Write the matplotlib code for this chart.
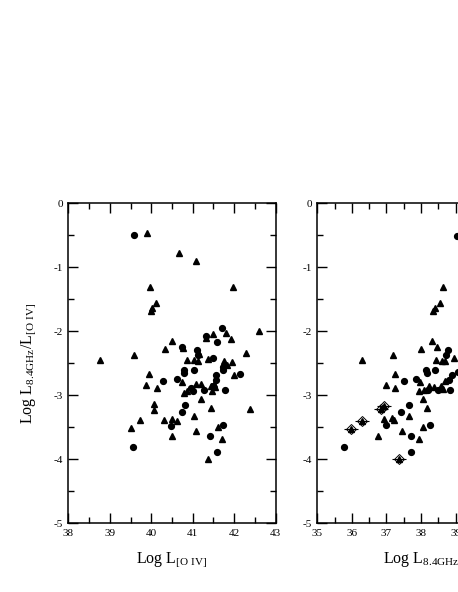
import matplotlib
matplotlib.use("Agg")
import matplotlib.pyplot as plt
from matplotlib.ticker import MultipleLocator

plt.rcParams['font.family'] = ['Liberation Serif', 'DejaVu Serif']
plt.rcParams['mathtext.fontset'] = 'custom'
plt.rcParams['mathtext.rm'] = 'Liberation Serif'
plt.rcParams['mathtext.it'] = 'Liberation Serif'
plt.rcParams['axes.unicode_minus'] = False

# left panel: ratio vs log L[O IV]
oiv_circ_x = [39.58, 41.70, 41.31, 41.59, 40.75, 41.11, 41.13, 41.49, 41.72, 41.72, 41.02, 40.79,
              40.80, 42.14, 41.57, 40.29, 40.61, 41.55, 41.48, 40.95, 41.01, 41.28, 41.77,
              40.81, 40.75, 40.48, 41.72, 41.41, 39.57, 41.58]
oiv_circ_y = [-0.50, -1.95, -2.07, -2.17, -2.24, -2.29, -2.37, -2.41, -2.56, -2.60, -2.61, -2.61,
              -2.65, -2.67, -2.68, -2.77, -2.75, -2.76, -2.86, -2.89, -2.93, -2.92, -2.91,
              -3.15, -3.26, -3.48, -3.47, -3.63, -3.80, -3.88]
oiv_tri_x = [39.90, 40.68, 41.07, 39.97, 40.12, 40.03, 40.00, 41.97, 42.60, 41.80, 41.49, 41.31,
             41.93, 40.49, 40.32, 40.77, 41.15, 39.58, 38.77, 40.87, 41.02, 41.12, 41.38, 42.29,
             41.76, 41.94, 41.83, 39.94, 42.00, 40.73, 41.51, 41.43, 41.53, 39.87, 40.14, 41.08,
             41.19, 40.87, 40.80, 41.46, 41.20, 40.07, 40.07, 41.45, 42.39, 41.03, 39.72, 40.30,
             40.50, 40.61, 39.52, 41.60, 41.09, 40.49, 41.70, 41.37]
oiv_tri_y = [-0.46, -0.77, -0.90, -1.30, -1.56, -1.64, -1.68, -1.31, -1.99, -2.02, -2.04, -2.10,
             -2.12, -2.15, -2.28, -2.26, -2.35, -2.37, -2.45, -2.45, -2.45, -2.46, -2.43, -2.34,
             -2.46, -2.48, -2.53, -2.67, -2.68, -2.79, -2.83, -2.85, -2.87, -2.84, -2.88, -2.82,
             -2.82, -2.93, -2.96, -2.94, -3.06, -3.14, -3.23, -3.20, -3.22, -3.32, -3.39, -3.38,
             -3.37, -3.40, -3.51, -3.49, -3.56, -3.63, -3.68, -4.00]

# right panel: ratio vs log L8.4GHz
rad_circ_x = [39.05, 38.77, 38.72, 38.14, 38.16, 38.40, 39.08, 38.89, 37.51, 37.86, 38.82,
              38.20, 38.50, 38.85, 37.64, 37.43, 36.99, 38.25, 37.71, 35.76, 37.70]
rad_circ_y = [-0.51, -2.29, -2.37, -2.61, -2.65, -2.61, -2.63, -2.68, -2.77, -2.75, -2.76,
              -2.91, -2.92, -2.91, -3.15, -3.26, -3.47, -3.47, -3.63, -3.80, -3.88]
rad_tri_x = [38.65, 38.54, 38.40, 38.35, 38.31, 38.47, 38.00, 37.19, 36.28, 38.43, 38.60,
             38.69, 38.95, 37.24, 37.98, 38.70, 38.58, 38.37, 38.23, 37.00, 37.26, 38.64,
             38.08, 37.93, 38.07, 38.17, 37.66, 36.92, 37.15, 37.21, 38.07, 36.77, 37.45, 37.95]
rad_tri_y = [-1.30, -1.56, -1.64, -1.68, -2.15, -2.24, -2.28, -2.37, -2.45, -2.45, -2.46,
             -2.46, -2.42, -2.67, -2.79, -2.78, -2.86, -2.87, -2.85, -2.84, -2.88, -2.90,
             -2.91, -2.94, -3.06, -3.20, -3.32, -3.37, -3.36, -3.38, -3.49, -3.63, -3.56, -3.68]
# upper limits (triangle + open diamond + arrow)
lim_x = [36.92, 36.83, 36.29, 35.98, 37.35]
lim_y = [-3.16, -3.22, -3.40, -3.53, -4.00]

fig = plt.figure(figsize=(4.58, 5.92), dpi=100)
ax1 = fig.add_axes([0.1491, 0.1160, 0.4528, 0.5405])
ax2 = fig.add_axes([0.6928, 0.1160, 0.4528, 0.5405])

ms = 4.2
ax1.plot(oiv_tri_x, oiv_tri_y, '^', color='k', ms=ms, mec='k')
ax1.plot(oiv_circ_x, oiv_circ_y, 'o', color='k', ms=ms, mec='k')

ax2.plot(rad_tri_x, rad_tri_y, '^', color='k', ms=ms, mec='k')
ax2.plot(rad_circ_x, rad_circ_y, 'o', color='k', ms=ms, mec='k')
ax2.plot(lim_x, lim_y, '^', color='k', ms=ms, mec='k')
ax2.plot(lim_x, lim_y, 'D', mfc='none', mec='k', ms=5.5, mew=0.7)
ax2.plot(lim_x, lim_y, '_', color='k', ms=10, mew=0.8)

ax1.set_xlim(38, 43)
ax2.set_xlim(35, 41)
for ax in (ax1, ax2):
    ax.set_ylim(-5, 0)
    ax.xaxis.set_major_locator(MultipleLocator(1))
    ax.xaxis.set_minor_locator(MultipleLocator(0.5))
    ax.yaxis.set_major_locator(MultipleLocator(1))
    ax.yaxis.set_minor_locator(MultipleLocator(0.5))
    ax.tick_params(which='both', direction='in', top=True, right=True,
                   labelsize=8, width=1.0, pad=4)
    ax.tick_params(which='major', length=7)
    ax.tick_params(which='minor', length=4)
    for s in ax.spines.values():
        s.set_linewidth(1.1)

ax1.set_xlabel(r'Log L$_{\mathrm{[O\ IV]}}$', fontsize=11.5, labelpad=9)
ax2.set_xlabel(r'Log L$_{\mathrm{8.4GHz}}$', fontsize=11.5, labelpad=9)
ax1.set_ylabel(r'Log L$_{\mathrm{8.4GHz}}$/L$_{\mathrm{[O\ IV]}}$', fontsize=11.5, labelpad=10)

fig.savefig('out.png', dpi=100)
